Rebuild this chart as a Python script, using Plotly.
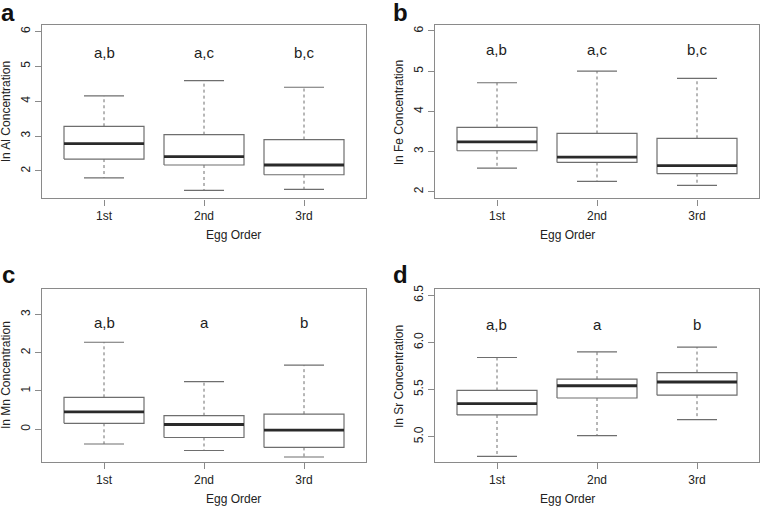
import plotly.graph_objects as go

categories = ["1st", "2nd", "3rd"]

# panel a: ln Al
al_low = [1.80, 1.44, 1.47]
al_q1 = [2.34, 2.17, 1.89]
al_med = [2.78, 2.41, 2.17]
al_q3 = [3.28, 3.04, 2.90]
al_high = [4.15, 4.59, 4.40]
al_letters = ["a,b", "a,c", "b,c"]

# panel b: ln Fe
fe_low = [2.59, 2.26, 2.16]
fe_q1 = [3.02, 2.73, 2.45]
fe_med = [3.24, 2.86, 2.65]
fe_q3 = [3.60, 3.45, 3.33]
fe_high = [4.71, 5.00, 4.82]
fe_letters = ["a,b", "a,c", "b,c"]

# panel c: ln Mn
mn_low = [-0.39, -0.56, -0.73]
mn_q1 = [0.15, -0.22, -0.48]
mn_med = [0.45, 0.12, -0.03]
mn_q3 = [0.83, 0.35, 0.39]
mn_high = [2.27, 1.24, 1.67]
mn_letters = ["a,b", "a", "b"]

# panel d: ln Sr
sr_low = [4.79, 5.01, 5.18]
sr_q1 = [5.23, 5.41, 5.44]
sr_med = [5.35, 5.54, 5.58]
sr_q3 = [5.49, 5.61, 5.68]
sr_high = [5.84, 5.90, 5.95]
sr_letters = ["a,b", "a", "b"]

panels = [
    dict(tag="a", title="ln Al Concentration", low=al_low, q1=al_q1, med=al_med, q3=al_q3, high=al_high,
         letters=al_letters, letter_y=5.41, yrange=[1.21, 6.19], tickvals=[2, 3, 4, 5, 6], ticktext=["2", "3", "4", "5", "6"],
         xdom=[42/760, 366/760], ydom=[1-196/506, 1-21/506], tagshift=-2),
    dict(tag="b", title="ln Fe Concentration", low=fe_low, q1=fe_q1, med=fe_med, q3=fe_q3, high=fe_high,
         letters=fe_letters, letter_y=5.53, yrange=[1.835, 6.15], tickvals=[2, 3, 4, 5, 6], ticktext=["2", "3", "4", "5", "6"],
         xdom=[435/760, 759/760], ydom=[1-196/506, 1-21/506], tagshift=-2),
    dict(tag="c", title="ln Mn Concentration", low=mn_low, q1=mn_q1, med=mn_med, q3=mn_q3, high=mn_high,
         letters=mn_letters, letter_y=2.78, yrange=[-0.87, 3.67], tickvals=[0, 1, 2, 3], ticktext=["0", "1", "2", "3"],
         xdom=[42/760, 366/760], ydom=[1-462/506, 1-287/506], tagshift=0),
    dict(tag="d", title="ln Sr Concentration", low=sr_low, q1=sr_q1, med=sr_med, q3=sr_q3, high=sr_high,
         letters=sr_letters, letter_y=6.19, yrange=[4.727, 6.57], tickvals=[5.0, 5.5, 6.0, 6.5], ticktext=["5.0", "5.5", "6.0", "6.5"],
         xdom=[435/760, 759/760], ydom=[1-462/506, 1-287/506], tagshift=0),
]

BOX_GRAY = "#6e6e6e"
FRAME = "#8a8a8a"
TXT = "#222222"
FONT = "Liberation Sans, Arial, sans-serif"

fig = go.Figure()
annotations = []
HW = 0.4   # box half-width (category units)
CW = 0.2   # cap half-width

for i, p in enumerate(panels):
    n = i + 1
    xa = "x" if n == 1 else f"x{n}"
    ya = "y" if n == 1 else f"y{n}"
    xs = [1, 2, 3]
    for j, c in enumerate(xs):
        # whiskers dashed
        fig.add_trace(go.Scatter(x=[c, c, None, c, c], y=[p["q3"][j], p["high"][j], None, p["q1"][j], p["low"][j]],
                                 mode="lines", line=dict(color=BOX_GRAY, width=1, dash="3px,3px"),
                                 xaxis=xa, yaxis=ya, showlegend=False, hoverinfo="skip"))
        # caps
        fig.add_trace(go.Scatter(x=[c-CW, c+CW, None, c-CW, c+CW], y=[p["high"][j], p["high"][j], None, p["low"][j], p["low"][j]],
                                 mode="lines", line=dict(color=BOX_GRAY, width=1.2),
                                 xaxis=xa, yaxis=ya, showlegend=False, hoverinfo="skip"))
        # box
        fig.add_trace(go.Scatter(x=[c-HW, c+HW, c+HW, c-HW, c-HW],
                                 y=[p["q1"][j], p["q1"][j], p["q3"][j], p["q3"][j], p["q1"][j]],
                                 mode="lines", line=dict(color=BOX_GRAY, width=1.2),
                                 xaxis=xa, yaxis=ya, showlegend=False, hoverinfo="skip"))
        # median
        fig.add_trace(go.Scatter(x=[c-HW, c+HW], y=[p["med"][j], p["med"][j]],
                                 mode="lines", line=dict(color="#2a2a2a", width=2.8),
                                 xaxis=xa, yaxis=ya, showlegend=False, hoverinfo="skip"))
        annotations.append(dict(x=c, y=p["letter_y"], xref=xa, yref=ya, text=p["letters"][j], showarrow=False,
                                font=dict(size=15, color=TXT, family=FONT)))
    xkey = "xaxis" if n == 1 else f"xaxis{n}"
    ykey = "yaxis" if n == 1 else f"yaxis{n}"
    fig.layout[xkey] = dict(domain=p["xdom"], range=[0.38, 3.62], anchor=ya, tickvals=xs, ticktext=categories,
                            ticks="outside", ticklen=6, tickcolor=FRAME, showgrid=False, zeroline=False,
                            showline=True, linecolor=FRAME, linewidth=1.2, mirror=True,
                            tickfont=dict(size=12, color=TXT, family=FONT))
    fig.layout[ykey] = dict(domain=p["ydom"], range=p["yrange"], anchor=xa, tickvals=p["tickvals"], ticktext=p["ticktext"],
                            ticks="outside", ticklen=6, tickcolor=FRAME, showgrid=False, zeroline=False,
                            showline=True, linecolor=FRAME, linewidth=1.2, mirror=True, tickangle=-90,
                            tickfont=dict(size=12, color=TXT, family=FONT))
    x0, x1 = p["xdom"]
    y0, y1 = p["ydom"]
    # x title
    annotations.append(dict(x=(x0+x1)/2, y=y0, xref="paper", yref="paper", yshift=-37, text="Egg Order",
                            showarrow=False, font=dict(size=12, color=TXT, family=FONT), yanchor="middle"))
    # y title
    annotations.append(dict(x=x0, y=(y0+y1)/2, xref="paper", yref="paper", xshift=-36, text=p["title"], textangle=-90,
                            showarrow=False, font=dict(size=12, color=TXT, family=FONT),
                            xanchor="center", yanchor="middle"))
    # panel tag
    annotations.append(dict(x=x0, y=y1, xref="paper", yref="paper", xshift=-34, yshift=p["tagshift"],
                            text="<b>" + p["tag"] + "</b>", borderpad=0,
                            showarrow=False, font=dict(size=24, color="#111111", family=FONT),
                            xanchor="center", yanchor="bottom"))

fig.update_layout(width=760, height=506, margin=dict(l=0, r=0, t=0, b=0),
                  paper_bgcolor="white", plot_bgcolor="white", annotations=annotations, showlegend=False)
fig.write_html("out.html", config={"displayModeBar": False},
               post_script="document.body.style.margin='0px';document.body.style.padding='0px';")
